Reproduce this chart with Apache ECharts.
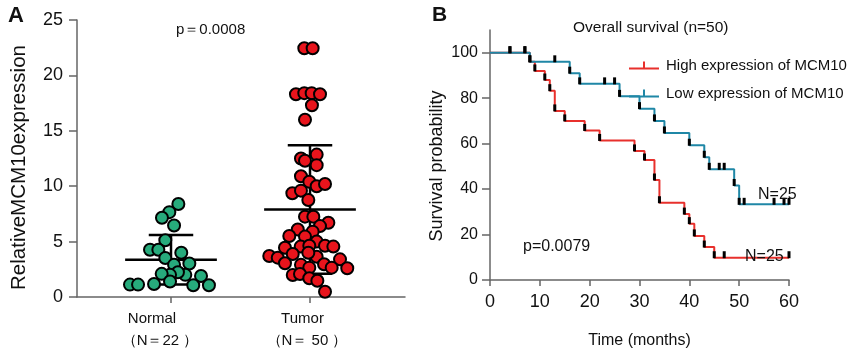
<!DOCTYPE html>
<html>
<head>
<meta charset="utf-8">
<script src="https://cdn.jsdelivr.net/npm/echarts@6/dist/echarts.min.js"></script>
<style>
  html, body { margin: 0; padding: 0; background: #fff; }
  #chart { width: 851px; height: 354px; }
</style>
</head>
<body>
<div id="chart"></div>
<script>
// Panel A: relative MCM10 expression, jitter = horizontal offset from group centre
const groupLabels = ['Normal', 'Tumor']
const groupCounts = ['（N＝22 ）', '（N＝ 50 ）']
const normalJitter = [0.053, -0.012, -0.065, 0.022, -0.041, -0.151, -0.091, 0.074, -0.041, 0.132, 0.022,
  0.103, 0.050, -0.007, -0.067, 0.216, -0.295, -0.237, -0.122, 0.160, 0.273, -0.007]
const normalValues = [8.4, 7.66, 7.15, 6.45, 5.12, 4.27, 4.27, 4.0, 3.52, 3.03, 2.9,
  2.0, 2.24, 2.0, 2.09, 1.9, 1.12, 1.12, 1.18, 1.06, 1.06, 1.4]
const tumorJitter = [-0.041, 0.019, -0.101, -0.041, 0.012, 0.072, 0.014, -0.036,
  0.048, -0.065, 0.048, -0.065, -0.005, 0.048, 0.108, -0.127, -0.065, -0.012,
  -0.036, 0.024, 0.132, 0.072, -0.088, 0.019, -0.149, -0.036, 0.048,
  -0.180, -0.067, -0.005, 0.108, 0.168, -0.124, -0.293, -0.232, 0.048, 0.216,
  -0.180, -0.065, 0.101, 0.156, 0.268, -0.005, -0.124, -0.072, -0.005, 0.053, 0.108,
  -0.036, -0.012]
const tumorValues = [22.45, 22.45, 18.3, 18.4, 18.4, 18.3, 17.3, 16.0,
  12.85, 12.5, 11.9, 10.9, 10.4, 10.0, 10.2, 9.36, 9.6, 8.75,
  7.25, 7.25, 6.7, 6.4, 6.1, 5.9, 5.5, 5.45, 5.0,
  4.45, 4.55, 4.63, 4.63, 4.55, 3.88, 3.7, 3.55, 3.64, 3.4,
  3.04, 2.9, 2.95, 2.65, 2.59, 2.65, 1.99, 2.08, 1.69, 1.47, 0.48,
  12.3, 4.0]
const groupMeans = [3.36, 7.9]
const groupSD = [2.24, 5.8]

// Panel B: Kaplan-Meier steps (months, survival %); flat repeats are censor ticks
const highTimes = [0, 4, 7, 8, 9, 11, 12, 13, 15, 19, 22, 29, 31, 33, 34, 39, 40, 41, 43, 45, 47, 60]
const highSurv = [100, 100, 100, 96, 92, 88, 83.3, 74.4, 70, 65.8, 61.4, 56.8, 52.8, 44, 34, 29, 24.8, 19.4, 14.5, 9.8, 9.8, 9.8]
const lowTimes = [0, 4, 7, 8, 13, 16, 18, 23, 25, 26, 30, 33, 35, 40, 43, 44, 46, 47, 49, 50, 51, 57, 59, 60]
const lowSurv = [100, 100, 100, 96, 96, 91, 86.3, 86.3, 86.3, 80.8, 75.4, 70, 64.7, 59.3, 54, 48.7, 48.7, 48.7, 41.6, 33.3, 33.3, 33.3, 33.3, 33.3]

const RED = '#e8302c'
const BLUE = '#1f87a6'
const AXIS = '#666'
const TXT = '#111'
const sans = "'Liberation Sans', Arial, sans-serif"
// legend icon: short line with a censor tick in the middle
const tickIcon = 'path://M0,7h14v-6h2v6h14v2h-30z'

const chart = echarts.init(document.getElementById('chart'))

function kmData(times, surv) {
  return times.map((t, i) => i === 0 ? { value: [t, surv[i]], symbol: 'none' } : [t, surv[i]])
}

function kmSeries(name, color, times, surv) {
  return {
    name,
    type: 'line',
    xAxisIndex: 1,
    yAxisIndex: 1,
    step: 'end',
    data: kmData(times, surv),
    showSymbol: true,
    showAllSymbol: true,
    symbol: 'rect',
    symbolSize: [3, 7],
    symbolOffset: [0, -3],
    itemStyle: { color: '#000' },
    lineStyle: { color, width: 2 },
    z: 3,
  }
}

chart.setOption({
  animation: false,
  textStyle: { fontFamily: sans },
  title: [
    { text: 'A', left: 3, top: 0, textStyle: { fontSize: 22, fontWeight: 'bold', color: TXT } },
    { text: 'B', left: 427, top: 0, textStyle: { fontSize: 21, fontWeight: 'bold', color: TXT } },
    { text: 'p＝0.0008', left: 171, top: 17, textStyle: { fontSize: 15, fontWeight: 'normal', color: TXT } },
    { text: 'Overall survival (n=50)', left: 568, top: 15, textStyle: { fontSize: 15.5, fontWeight: 'normal', color: TXT } },
    { text: 'p=0.0079', left: 518, top: 234, textStyle: { fontSize: 16, fontWeight: 'normal', color: TXT } },
    { text: 'N=25', left: 753, top: 182, textStyle: { fontSize: 16, fontWeight: 'normal', color: TXT } },
    { text: 'N=25', left: 740, top: 244, textStyle: { fontSize: 16, fontWeight: 'normal', color: TXT } },
  ],
  legend: {
    left: 624,
    top: 53,
    orient: 'vertical',
    itemWidth: 30,
    itemHeight: 9,
    itemGap: 13,
    textStyle: { fontSize: 15, color: TXT, padding: [0, 0, 0, 2] },
    data: [
      { name: 'High expression of MCM10', icon: tickIcon, itemStyle: { color: RED } },
      { name: 'Low expression of MCM10', icon: tickIcon, itemStyle: { color: BLUE } },
    ],
  },
  grid: [
    { left: 77, top: 20, width: 328, height: 277 },
    { left: 490, top: 30, width: 299, height: 258 },
  ],
  xAxis: [
    {
      gridIndex: 0,
      type: 'value',
      min: 1 - 94 / 139,
      max: 2 + 95 / 139,
      splitLine: { show: false },
      axisLine: { lineStyle: { color: AXIS, width: 1.5 } },
      axisTick: { customValues: [1, 2], length: 6, lineStyle: { color: AXIS, width: 1.5 } },
      axisLabel: {
        customValues: [1, 2],
        margin: 11,
        formatter: v => {
          const i = Math.round(v) - 1
          return `{a${i}|${groupLabels[i]}}\n{b${i}|${groupCounts[i]}}`
        },
        rich: {
          a0: { fontSize: 15, color: TXT, padding: [0, 38, 0, 0], lineHeight: 22 },
          b0: { fontSize: 15, color: TXT, padding: [0, 22, 0, 0], lineHeight: 22 },
          a1: { fontSize: 15, color: TXT, padding: [0, 15, 0, 0], lineHeight: 22 },
          b1: { fontSize: 15, color: TXT, padding: [0, 6, 0, 0], lineHeight: 22 },
        },
      },
    },
    {
      gridIndex: 1,
      type: 'value',
      min: 0,
      max: 60,
      interval: 10,
      name: 'Time (months)',
      nameLocation: 'middle',
      nameGap: 53,
      nameTextStyle: { fontSize: 16, color: TXT },
      splitLine: { show: false },
      axisLine: { lineStyle: { color: AXIS, width: 1.5 } },
      axisTick: { length: 6, lineStyle: { color: AXIS, width: 1.5 } },
      axisLabel: { fontSize: 18, color: TXT, margin: 13 },
    },
  ],
  yAxis: [
    {
      gridIndex: 0,
      type: 'value',
      min: 0,
      max: 25,
      interval: 5,
      name: 'RelativeMCM10expression',
      nameLocation: 'middle',
      nameGap: 47,
      nameTextStyle: { fontSize: 20.5, color: TXT, padding: [0, 18, 0, 0] },
      splitLine: { show: false },
      axisLine: { show: true, lineStyle: { color: AXIS, width: 1.5 } },
      axisTick: { show: true, length: 8, lineStyle: { color: AXIS, width: 1.5 } },
      axisLabel: { fontSize: 18, color: TXT, margin: 14 },
    },
    {
      gridIndex: 1,
      type: 'value',
      min: 0,
      max: 110,
      name: 'Survival probability',
      nameLocation: 'middle',
      nameGap: 44,
      nameTextStyle: { fontSize: 18, color: TXT, padding: [0, 22, 0, 0] },
      splitLine: { show: false },
      axisLine: { show: true, lineStyle: { color: AXIS, width: 1.5 } },
      axisTick: { show: true, customValues: [0, 20, 40, 60, 80, 100], length: 8, lineStyle: { color: AXIS, width: 1.5 } },
      axisLabel: { customValues: [0, 20, 40, 60, 80, 100], fontSize: 16, color: TXT, margin: 12 },
    },
  ],
  series: [
    {
      type: 'custom',
      xAxisIndex: 0,
      yAxisIndex: 0,
      data: groupMeans.map((m, i) => [i + 1, m, groupSD[i]]),
      renderItem: (params, api) => {
        const x = api.value(0), m = api.value(1), sd = api.value(2)
        const seg = (x1, y1, x2, y2) => {
          const a = api.coord([x1, y1]), b = api.coord([x2, y2])
          return { type: 'line', shape: { x1: a[0], y1: a[1], x2: b[0], y2: b[1] }, style: { stroke: '#000', lineWidth: 2.5 } }
        }
        return {
          type: 'group',
          children: [
            seg(x - 0.33, m, x + 0.33, m),
            seg(x - 0.16, m + sd, x + 0.16, m + sd),
            seg(x - 0.16, m - sd, x + 0.16, m - sd),
            seg(x, m - sd, x, m + sd),
          ],
        }
      },
      z: 1,
    },
    {
      type: 'scatter',
      xAxisIndex: 0,
      yAxisIndex: 0,
      data: normalValues.map((v, i) => [1 + normalJitter[i], v]),
      symbolSize: 12,
      itemStyle: { color: '#27ab7c', borderColor: '#000', borderWidth: 2, opacity: 1 },
      z: 2,
    },
    {
      type: 'scatter',
      xAxisIndex: 0,
      yAxisIndex: 0,
      data: tumorValues.map((v, i) => [2 + tumorJitter[i], v]),
      symbolSize: 12,
      itemStyle: { color: '#e8141c', borderColor: '#000', borderWidth: 2, opacity: 1 },
      z: 2,
    },
    kmSeries('High expression of MCM10', RED, highTimes, highSurv),
    kmSeries('Low expression of MCM10', BLUE, lowTimes, lowSurv),
  ],
})
</script>
</body>
</html>
